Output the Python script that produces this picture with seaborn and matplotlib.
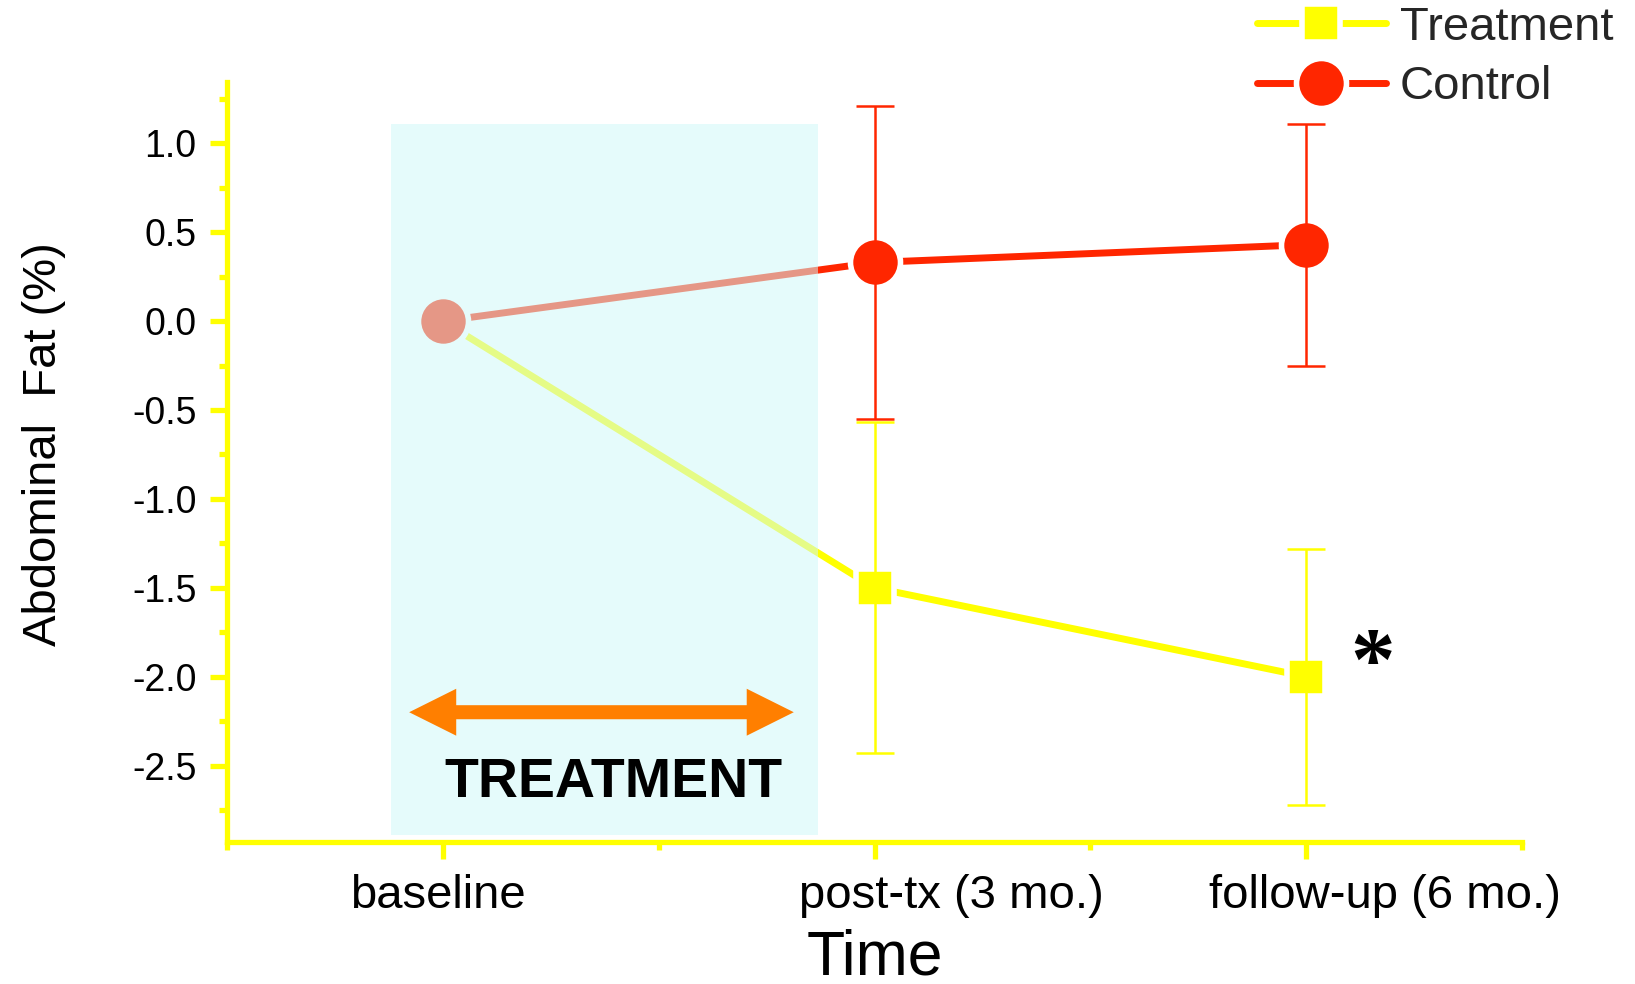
import numpy as np
import pandas as pd
import matplotlib
matplotlib.use("Agg")
import matplotlib.pyplot as plt
import matplotlib.transforms as mtransforms
from matplotlib.lines import Line2D
from matplotlib.patches import Polygon
from matplotlib.ticker import FixedLocator, MultipleLocator
import seaborn as sns

# Time points and group summaries (change in abdominal fat, %)
time_labels = ["baseline", "post-tx (3 mo.)", "follow-up (6 mo.)"]
groups = ["Treatment", "Control"]
treatment_mean = [0.0, -1.50, -2.00]
treatment_err = [0.0, 0.93, 0.72]
control_mean = [0.0, 0.33, 0.43]
control_err = [0.0, 0.88, 0.68]
y_tick_values = [-2.5, -2.0, -1.5, -1.0, -0.5, 0.0, 0.5, 1.0]

# Treatment window (x in time units, y in % change)
window_x = (-0.12, 0.87)
window_y = (-2.89, 1.106)
arrow_x = (-0.078, 0.813)
arrow_y = -2.20

sns.set_theme(style="white")
plt.rcParams["font.family"] = ["Liberation Sans", "DejaVu Sans"]
plt.rcParams["axes.unicode_minus"] = False

YELLOW = "#FFFF00"
RED = "#FF2600"
ORANGE = "#FF7F00"
colors = {"Treatment": YELLOW, "Control": RED}
markers = {"Treatment": "s", "Control": "o"}
msizes = {"Treatment": 27.5, "Control": 36}

fig = plt.figure(figsize=(16.35, 9.84), dpi=100)
ax = fig.add_axes([227 / 1635, 142 / 984, 1295 / 1635, 760 / 984])

pos = np.arange(len(time_labels))
df = pd.DataFrame({
    "time": np.tile(pos, 2),
    "change": treatment_mean + control_mean,
    "err": treatment_err + control_err,
    "group": np.repeat(groups, len(pos)),
})

for g in groups:
    sub = df[df["group"] == g]
    sns.lineplot(data=sub, x="time", y="change", color=colors[g],
                 marker=markers[g], markersize=msizes[g],
                 markeredgecolor="white", markeredgewidth=4,
                 linewidth=5, errorbar=None, sort=False, legend=False,
                 ax=ax, zorder=3)
    eb = sub[sub["err"] > 0]
    ax.errorbar(eb["time"], eb["change"], yerr=eb["err"], fmt="none",
                ecolor=colors[g], elinewidth=1.8, capsize=13.5,
                capthick=1.8, zorder=4)

# translucent treatment window laid over the early segment
ax.fill_between(list(window_x), window_y[0], window_y[1],
                color=(207 / 255, 249 / 255, 249 / 255), alpha=0.54,
                lw=0, zorder=5)

# double-headed arrow spanning the treatment period (single outline)
x0, x1 = arrow_x
shaft_hw, head_hw, head_len = 0.0395, 0.132, 0.109
outline = [
    (x0, arrow_y), (x0 + head_len, arrow_y + head_hw),
    (x0 + head_len, arrow_y + shaft_hw), (x1 - head_len, arrow_y + shaft_hw),
    (x1 - head_len, arrow_y + head_hw), (x1, arrow_y),
    (x1 - head_len, arrow_y - head_hw), (x1 - head_len, arrow_y - shaft_hw),
    (x0 + head_len, arrow_y - shaft_hw), (x0 + head_len, arrow_y - head_hw),
]
ax.add_patch(Polygon(outline, closed=True, facecolor=ORANGE, lw=0,
                     zorder=6))
ax.text(0.395, -2.679, "TREATMENT", ha="center", va="baseline",
        fontsize=40, fontweight="bold", color="black", zorder=6)

# significance marker
ax.text(2.153, -1.94, "*", ha="center", va="center", fontsize=64,
        fontweight="bold", family="Liberation Serif", color="black",
        zorder=6)

ax.set_xlim(-0.5, 2.5)
ax.set_ylim(-2.93, 1.345)

ax.xaxis.set_major_locator(FixedLocator(pos))
ax.xaxis.set_minor_locator(FixedLocator([-0.5, 0.5, 1.5, 2.5]))
ax.set_xticklabels(time_labels)
ax.yaxis.set_major_locator(FixedLocator(y_tick_values))
ax.set_yticklabels([f"{v:.1f}" for v in y_tick_values])
ax.yaxis.set_minor_locator(MultipleLocator(0.25))

for side in ("top", "right"):
    ax.spines[side].set_visible(False)
for side in ("left", "bottom"):
    ax.spines[side].set_color(YELLOW)
    ax.spines[side].set_linewidth(3.8)

ax.tick_params(which="both", bottom=True, left=True, direction="out",
               color=YELLOW, width=3.8)
ax.tick_params(which="major", length=12)
ax.tick_params(which="minor", length=5.5)
ax.tick_params(axis="y", labelsize=27, pad=10, labelcolor="black")
ax.tick_params(axis="x", labelsize=34, pad=11, labelcolor="black")

# per-label horizontal nudges for the time labels (pixels)
label_shift_px = [-5, 77, 79]
for lab, dx in zip(ax.get_xticklabels(), label_shift_px):
    lab.set_transform(lab.get_transform() +
                      mtransforms.ScaledTranslation(dx / 100, 0,
                                                    fig.dpi_scale_trans))

ax.set_xlabel("Time", fontsize=45, color="black")
ax.xaxis.set_label_coords(0.5, -0.114)
ax.set_ylabel("Abdominal  Fat (%)", fontsize=34, color="black")
ax.yaxis.set_label_coords(-0.124, 0.524)

handles = [Line2D([], [], color=colors[g], marker=markers[g],
                  markersize=msizes[g], markeredgecolor="white",
                  markeredgewidth=4, linewidth=5) for g in groups]
fig.legend(handles, groups, loc="upper left",
           bbox_to_anchor=(1257 / 1635, 0.994), frameon=False, fontsize=34,
           handlelength=2.73, handletextpad=0.3, borderpad=0,
           borderaxespad=0, labelspacing=0.33)

fig.savefig("out.png", dpi=100, facecolor="white")
